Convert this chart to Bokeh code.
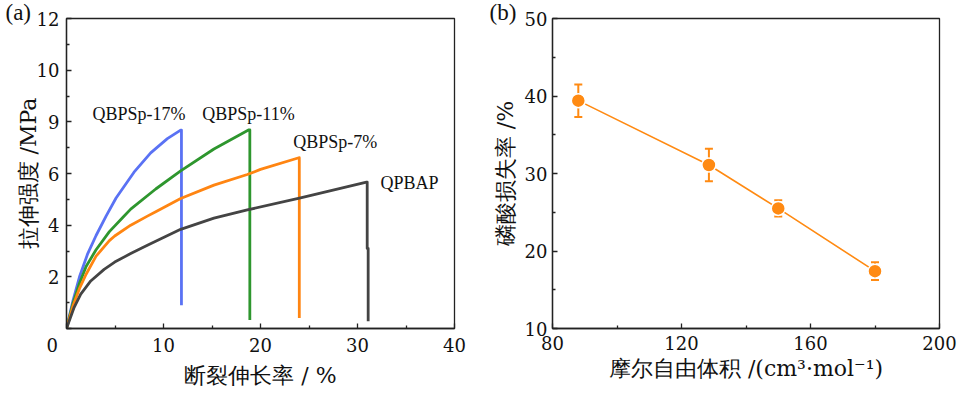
from bokeh.plotting import figure
from bokeh.layouts import row
from bokeh.models import FixedTicker, Label, Whisker, ColumnDataSource, TeeHead
from bokeh.embed import file_html
from bokeh.resources import INLINE

# ---------------- data: panel (a) stress-strain ----------------
x_17 = [0, 0.65, 1.34, 2.19, 3.05, 4.08, 5.11, 6.96, 8.68, 10.4, 11.77, 11.85, 11.85]
y_17 = [0, 1.05, 2.0, 2.9, 3.6, 4.35, 5.05, 6.05, 6.8, 7.35, 7.68, 7.68, 0.9]

x_11 = [0, 0.65, 1.34, 2.02, 3.05, 4.42, 5.8, 6.62, 9.2, 11.77, 15.2, 18.81, 18.9, 18.9]
y_11 = [0, 0.95, 1.75, 2.4, 3.05, 3.75, 4.3, 4.62, 5.4, 6.1, 6.95, 7.69, 7.69, 0.33]

x_7 = [0, 0.65, 1.34, 2.02, 3.05, 4.42, 4.97, 6.62, 8.34, 9.2, 11.77, 15.2, 18.64, 20.0, 23.96, 24.0, 24.0]
y_7 = [0, 0.85, 1.55, 2.1, 2.8, 3.4, 3.58, 4.0, 4.35, 4.52, 5.03, 5.55, 5.96, 6.16, 6.61, 6.61, 0.41]

x_qp = [0, 0.79, 1.47, 2.5, 3.88, 4.97, 6.62, 8.34, 10.0, 11.77, 15.2, 18.64, 24.13, 30.93, 31.0, 31.0, 31.1, 31.1]
y_qp = [0, 0.82, 1.33, 1.84, 2.29, 2.57, 2.9, 3.22, 3.52, 3.84, 4.27, 4.59, 5.06, 5.67, 5.67, 3.1, 3.1, 0.28]

names_a = ["QBPSp-17%", "QBPSp-11%", "QBPSp-7%", "QPBAP"]
label_x = [2.68, 14.0, 23.38, 32.37]
label_y = [8.29, 8.29, 7.21, 5.64]

# ---------------- data: panel (b) ----------------
mfv = [88, 128.5, 150, 180]
loss = [39.4, 31.1, 25.5, 17.4]
loss_err = [2.1, 2.1, 1.05, 1.15]

a_xticks = [0, 10, 20, 30, 40]
a_yticks = [0, 2, 4, 6, 8, 10, 12]
a_ytick_labels = {0: "", 2: "2", 4: "4", 6: "6", 8: "9", 10: "10", 12: "12"}
b_xticks = [80, 120, 160, 200]
b_yticks = [10, 20, 30, 40, 50]

AX_FONT = "DejaVu Serif"
LBL_FONT = "Liberation Serif"
TICK_SIZE = "18px"
LABEL_SIZE = "22px"
AXC = "#222222"
TXT = "#111111"

colors_a = ["#5a72f4", "#2e962e", "#ff8512", "#444444"]
ORANGE = "#ff8a12"
NB = "\u00a0"


def style(p):
    p.grid.visible = False
    p.outline_line_color = AXC
    p.outline_line_width = 1.3
    p.background_fill_color = "white"
    p.border_fill_color = "white"
    for ax in [p.xaxis[0], p.yaxis[0]]:
        ax.axis_line_color = AXC
        ax.axis_line_width = 1.3
        ax.major_tick_line_color = AXC
        ax.minor_tick_line_color = AXC
        ax.major_tick_line_width = 1.3
        ax.minor_tick_line_width = 1.3
        ax.major_tick_in = 5
        ax.major_tick_out = 0
        ax.minor_tick_in = 3
        ax.minor_tick_out = 0
        ax.major_label_text_font = AX_FONT
        ax.major_label_text_font_size = TICK_SIZE
        ax.major_label_text_color = TXT
        ax.axis_label_text_font = AX_FONT
        ax.axis_label_text_font_size = LABEL_SIZE
        ax.axis_label_text_font_style = "normal"
        ax.axis_label_text_color = TXT
    p.title.align = "left"
    p.title.text_font = LBL_FONT
    p.title.text_font_size = "23px"
    p.title.text_font_style = "normal"
    p.title.text_color = TXT
    p.title.standoff = -12


# ---------------- panel (a) ----------------
p1 = figure(width=480, height=394, x_range=(0, 40), y_range=(0, 12),
            output_backend="svg", toolbar_location=None, title="(a)",
            min_border_left=66, min_border_right=26,
            min_border_top=15, min_border_bottom=66)
style(p1)
p1.title.offset = -61
p1.xaxis.ticker = FixedTicker(ticks=a_xticks, minor_ticks=[5, 15, 25, 35])
p1.yaxis.ticker = FixedTicker(ticks=a_yticks, minor_ticks=[1, 3, 5, 7, 9, 11])
p1.yaxis.major_label_overrides = a_ytick_labels
p1.xaxis.major_label_overrides = {0: "0" + NB * 5}
p1.xaxis.axis_label = "断裂伸长率 / %"
p1.yaxis.axis_label = "拉伸强度 /MPa"
p1.xaxis.major_label_standoff = 6
p1.xaxis.axis_label_standoff = 4
p1.yaxis.major_label_standoff = 7
p1.yaxis.axis_label_standoff = -7

for xs, ys, c in zip([x_17, x_11, x_7, x_qp], [y_17, y_11, y_7, y_qp], colors_a):
    p1.line(xs, ys, line_color=c, line_width=2.8, line_join="round")

for t, lx, ly in zip(names_a, label_x, label_y):
    p1.add_layout(Label(x=lx, y=ly, text=t, text_font=LBL_FONT, text_font_size="18px",
                        text_align="left", text_baseline="middle", text_color=TXT))

# ---------------- panel (b) ----------------
p2 = figure(width=480, height=394, x_range=(80, 200), y_range=(10, 50),
            output_backend="svg", toolbar_location=None, title="(b)",
            min_border_left=72, min_border_right=21,
            min_border_top=18, min_border_bottom=66)
style(p2)
p2.title.offset = -63
p2.xaxis.ticker = FixedTicker(ticks=b_xticks, minor_ticks=[100, 140, 180])
p2.yaxis.ticker = FixedTicker(ticks=b_yticks, minor_ticks=[15, 25, 35, 45])
p2.xaxis.axis_label = "摩尔自由体积 /(cm³·mol⁻¹)"
p2.yaxis.axis_label = "磷酸损失率 /%"
p2.xaxis.major_label_standoff = 7
p2.xaxis.axis_label_standoff = 3
p2.yaxis.major_label_standoff = 5
p2.yaxis.axis_label_standoff = 4

src = ColumnDataSource(dict(x=mfv, y=loss,
                            lo=[v - e for v, e in zip(loss, loss_err)],
                            hi=[v + e for v, e in zip(loss, loss_err)]))
p2.line("x", "y", source=src, line_color=ORANGE, line_width=1.6)
w = Whisker(base="x", lower="lo", upper="hi", source=src, dimension="height",
            line_color=ORANGE, line_width=2,
            lower_head=TeeHead(size=8, line_color=ORANGE, line_width=2),
            upper_head=TeeHead(size=8, line_color=ORANGE, line_width=2))
p2.add_layout(w)
p2.scatter("x", "y", source=src, size=14, fill_color=ORANGE, line_color="white",
           line_width=1.5)

layout = row(p1, p2)
open("out.html", "w").write(file_html(layout, INLINE))
